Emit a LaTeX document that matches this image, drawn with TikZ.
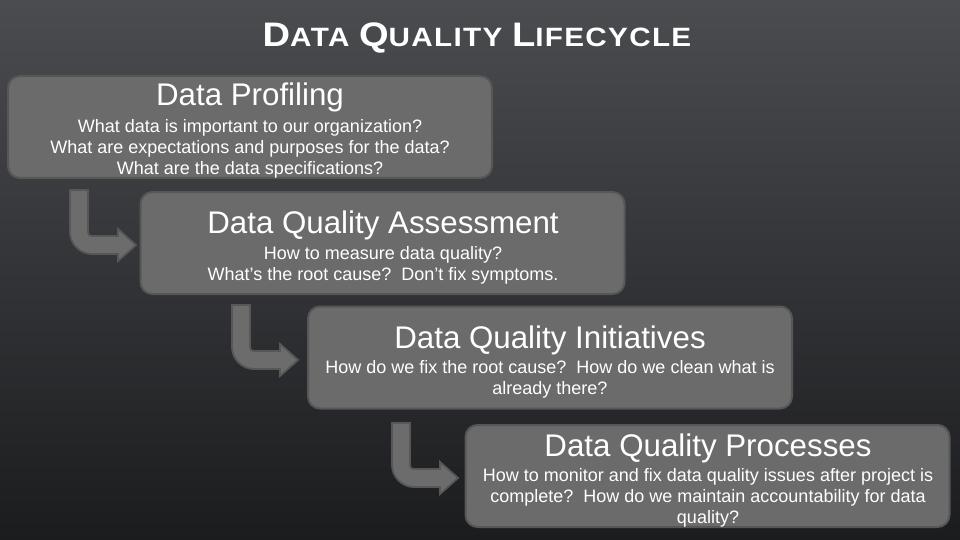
\documentclass[tikz,border=0pt]{standalone}
\usepackage{fontspec}
\setmainfont{Liberation Sans}
\newfontfamily\titlefont[FakeStretch=1.12, LetterSpace=5]{Liberation Sans}
\definecolor{bgtop}{HTML}{4A4C50}
\definecolor{bgbot}{HTML}{1B1C1E}
\definecolor{boxfill}{HTML}{6B6B6B}
\definecolor{boxline}{HTML}{565656}
\definecolor{arrowfill}{HTML}{6C6C6C}
\definecolor{arrowline}{HTML}{575757}
\newcommand{\tcap}[2]{{\fontsize{34}{40}\selectfont #1}{\fontsize{26.5}{30}\selectfont #2}}
\begin{document}
\begin{tikzpicture}[x=1pt,y=-1pt,
  stagebox/.style={draw=boxline, line width=2pt, fill=boxfill, rounded corners=12pt,
    minimum width=484pt, minimum height=102pt, inner sep=0pt},
  stagetitle/.style={anchor=base, text=white, inner sep=0pt, font=\fontsize{31.3}{34}\selectfont},
  stagetext/.style={anchor=north, text=white, inner sep=0pt, align=center, font=\fontsize{18}{21}\selectfont},
  bentarrow/.pic={
    \filldraw[draw=arrowline, fill=arrowfill, line width=1.8pt, line join=miter]
      (0,0) -- (18,0) -- (18,42) .. controls (18,45) and (19,46) .. (22,46)
      -- (48,46) -- (48,39) -- (66,55) -- (48,71) -- (48,64) -- (22,64)
      .. controls (10,64) and (0,54) .. (0,42) -- cycle;
  }]
\useasboundingbox (0,0) rectangle (960,540);
\shade[top color=bgtop, bottom color=bgbot] (0,0) rectangle (960,540);

\node[anchor=base, text=white, inner sep=0pt,
  font=\titlefont\bfseries\fontsize{26.5}{30}\selectfont] (title) at (477,47)
  {\tcap{D}{ATA} \tcap{Q}{UALITY} \tcap{L}{IFECYCLE}};

\node[stagebox] (b1) at (250,127) {};
\node[stagebox] (b2) at (382.5,243) {};
\node[stagebox] (b3) at (550,357.5) {};
\node[stagebox] (b4) at (707.5,476) {};

\node[stagetitle] (t1) at (250,106) {Data Profiling};
\node[stagetext] (d1) at (250,119.5) {What data is important to our organization?\\What are expectations and purposes for the data?\\What are the data specifications?};

\node[stagetitle] (t2) at (383,233) {Data Quality Assessment};
\node[stagetext] (d2) at (383,246.5) {How to measure data quality?\\What’s the root cause?~~Don’t fix symptoms.};

\node[stagetitle] (t3) at (550,348) {Data Quality Initiatives};
\node[stagetext] (d3) at (550,360.5) {How do we fix the root cause?~~How do we clean what is\\already there?};

\node[stagetitle] (t4) at (708,456) {Data Quality Processes};
\node[stagetext] (d4) at (708,468.5) {How to monitor and fix data quality issues after project is\\complete?~~How do we maintain accountability for data\\quality?};

\coordinate (a1) at (70,190);
\coordinate (a2) at (232,305);
\coordinate (a3) at (392,423);
\pic at (a1) {bentarrow};
\pic at (a2) {bentarrow};
\pic at (a3) {bentarrow};
\end{tikzpicture}
\end{document}
